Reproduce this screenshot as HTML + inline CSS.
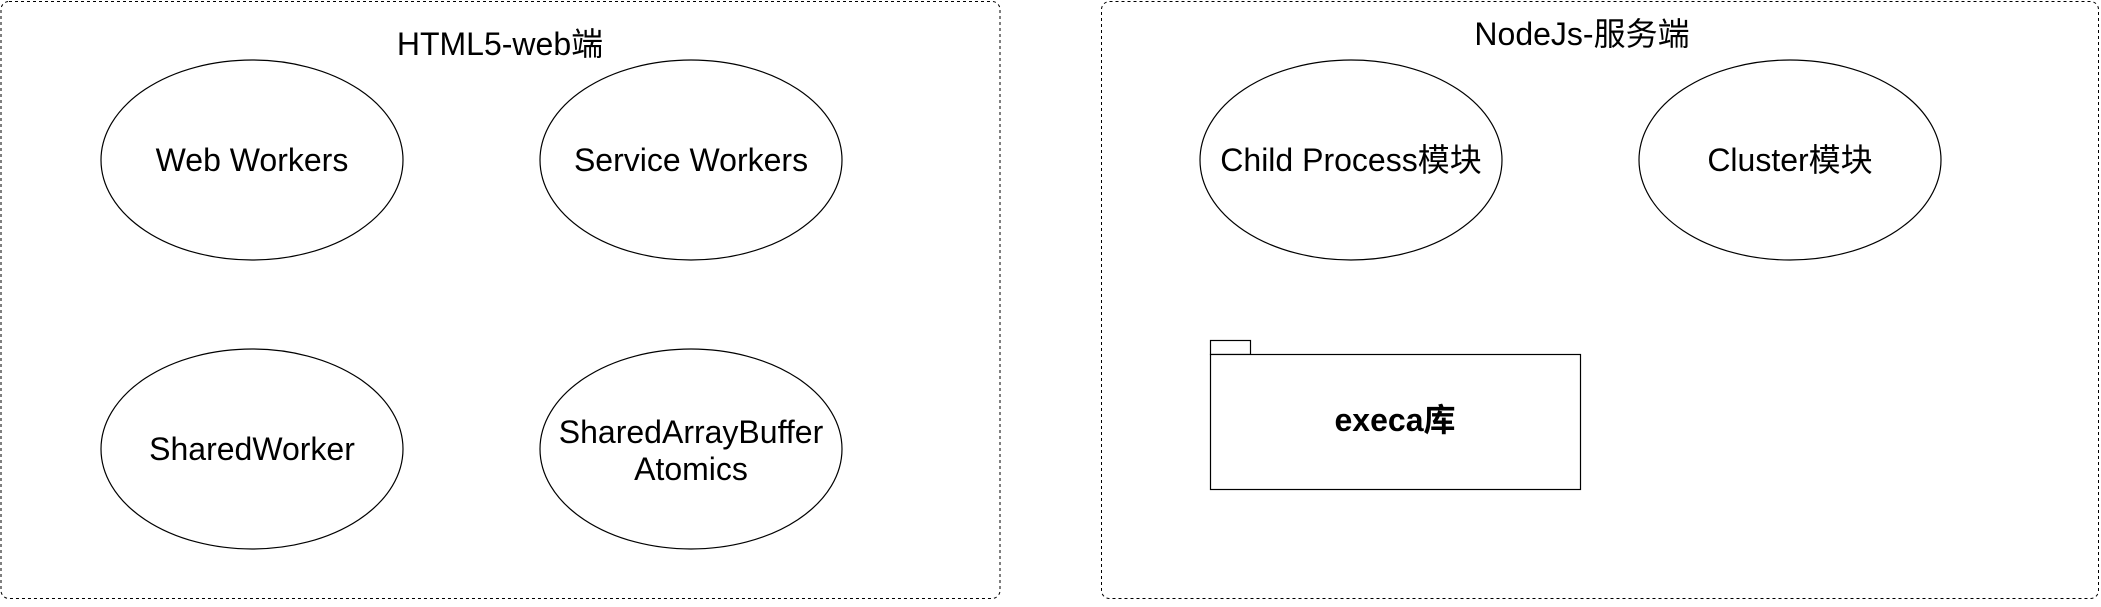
<!DOCTYPE html>
<html><head><meta charset="utf-8"><style>
html,body{margin:0;padding:0;background:#fff;}
svg text{font-family:"Liberation Sans","Noto Sans CJK SC",sans-serif;font-size:32px;fill:#000;}
</style></head><body>
<svg width="2101" height="602" xmlns="http://www.w3.org/2000/svg">
<rect x="1" y="1.5" width="999" height="597" rx="8" fill="none" stroke="#000" stroke-width="1" stroke-dasharray="3,3"/>
<rect x="1101.5" y="1.5" width="997" height="597" rx="8" fill="none" stroke="#000" stroke-width="1" stroke-dasharray="3,3"/>
<text x="500" y="55" text-anchor="middle">HTML5-web端</text>
<text x="1582" y="45" text-anchor="middle">NodeJs-服务端</text>
<g fill="#fff" stroke="#000" stroke-width="1.2">
<ellipse cx="252" cy="160" rx="151" ry="100"/>
<ellipse cx="691" cy="160" rx="151" ry="100"/>
<ellipse cx="252" cy="449" rx="151" ry="100"/>
<ellipse cx="691" cy="449" rx="151" ry="100"/>
<ellipse cx="1351" cy="160" rx="151" ry="100"/>
<ellipse cx="1790" cy="160" rx="151" ry="100"/>
<rect x="1210.5" y="340.5" width="40" height="14"/>
<rect x="1210.5" y="354.5" width="370" height="135"/>
</g>
<g text-anchor="middle">
<text x="252" y="171">Web Workers</text>
<text x="691" y="171">Service Workers</text>
<text x="252" y="460">SharedWorker</text>
<text x="691" y="443">SharedArrayBuffer</text>
<text x="691" y="480">Atomics</text>
<text x="1351" y="171">Child Process模块</text>
<text x="1790" y="171">Cluster模块</text>
<text x="1395" y="431" font-weight="bold">execa库</text>
</g>
</svg>
</body></html>
